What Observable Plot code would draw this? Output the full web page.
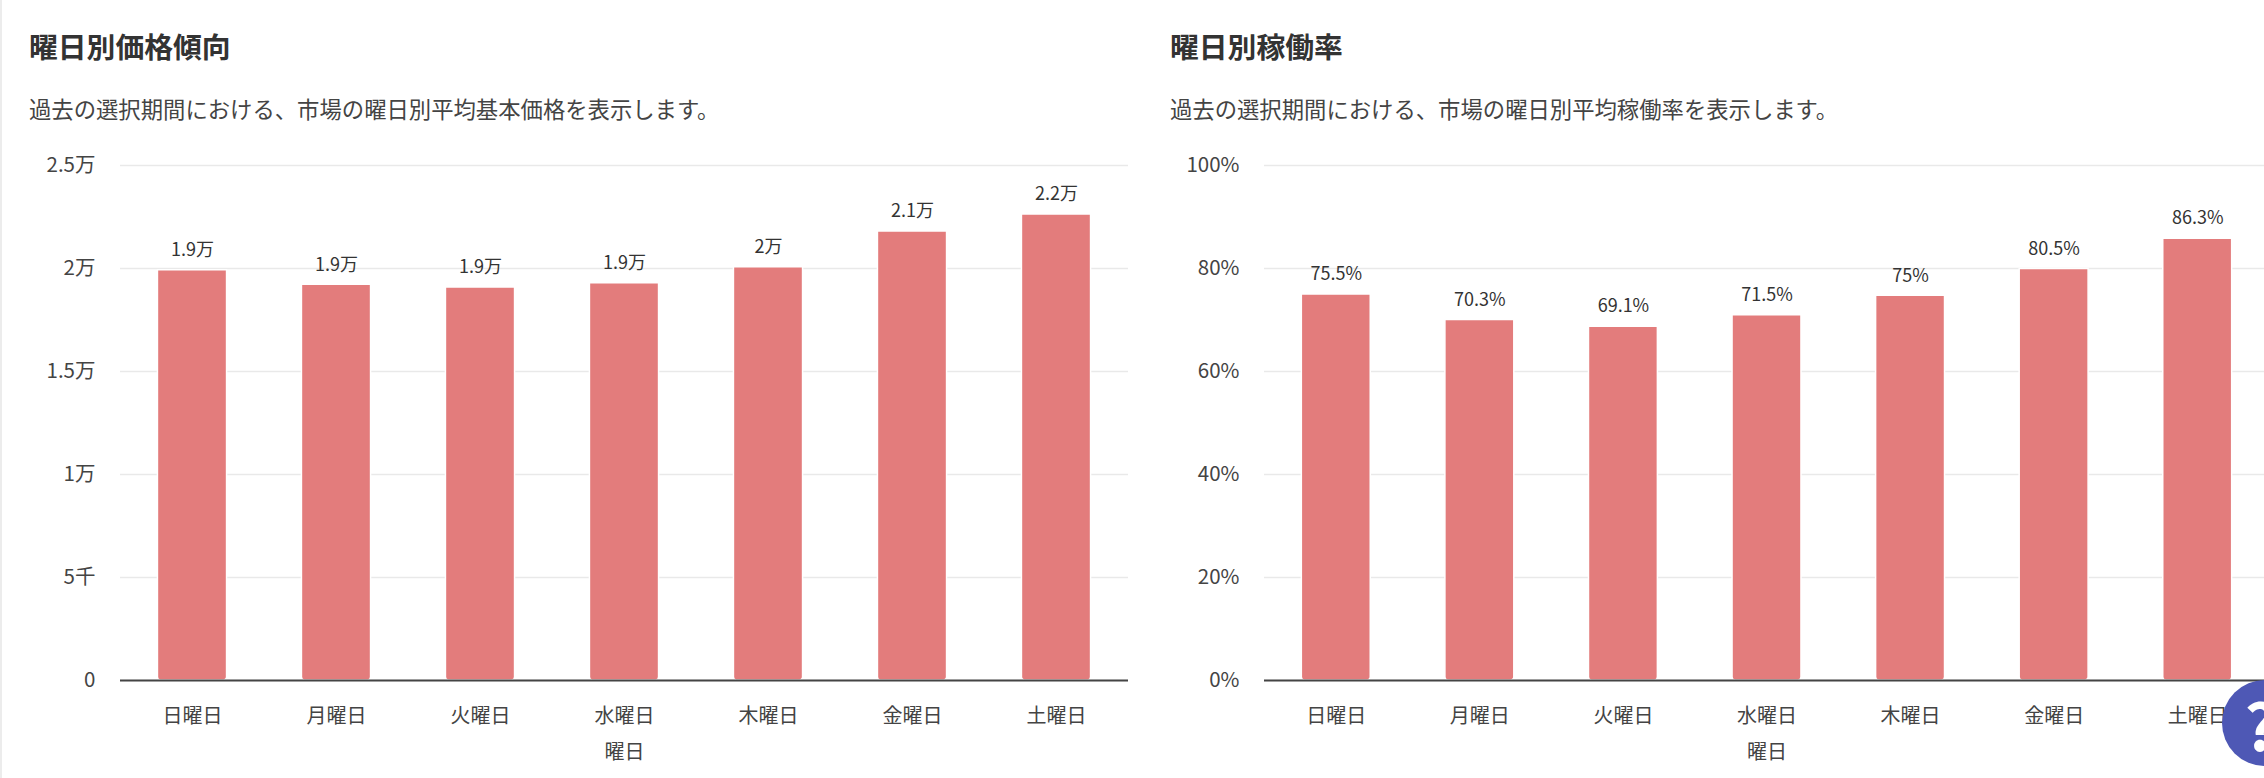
<!DOCTYPE html>
<html lang="ja"><head><meta charset="utf-8">
<script src="https://cdn.jsdelivr.net/npm/d3@7"></script>
<script src="https://cdn.jsdelivr.net/npm/@observablehq/plot@0.6"></script>
<style>
html,body{margin:0;padding:0;background:#fff;overflow:hidden;width:2264px;height:778px}
body{font-family:"Noto Sans CJK JP","Noto Sans",sans-serif;position:relative}
.edge{position:absolute;left:0;top:0;width:2px;height:778px;background:#ececec}
h2{position:absolute;margin:0;top:26px;font-size:28.8px;line-height:40px;font-weight:700;color:#333}
p{position:absolute;margin:0;top:91px;font-size:22.35px;line-height:34px;color:#444}
.chart{position:absolute;top:140px;width:1132px}
.chart svg{max-width:none}
.help{position:absolute;left:2222px;top:680px;width:86px;height:86px;border-radius:50%;background:#4e58b5;color:#fff;font-size:64px;font-weight:700;line-height:86px;text-align:center;text-indent:-8px}
</style></head><body>
<div class="edge"></div>
<h2 style="left:29px">曜日別価格傾向</h2>
<p style="left:29px">過去の選択期間における、市場の曜日別平均基本価格を表示します。</p>
<h2 style="left:1170px">曜日別稼働率</h2>
<p style="left:1170px">過去の選択期間における、市場の曜日別平均稼働率を表示します。</p>
<div id="a" class="chart" style="left:0"></div>
<div id="b" class="chart" style="left:1132px"></div>
<div class="help">?</div>
<script>
const days = ["日曜日","月曜日","火曜日","水曜日","木曜日","金曜日","土曜日"];
const prices = [19920,19210,19080,19290,20060,21800,22620];
const priceLabels = ["1.9万","1.9万","1.9万","1.9万","2万","2.1万","2.2万"];
const priceTicks = [0,5000,10000,15000,20000,25000];
const priceTickLabels = ["0","5千","1万","1.5万","2万","2.5万"];
const rates = [74.95,70.0,68.7,70.9,74.7,79.9,85.8];
const rateLabels = ["75.5%","70.3%","69.1%","71.5%","75%","80.5%","86.3%"];
const rateTicks = [0,20,40,60,80,100];
const rateTickLabels = ["0%","20%","40%","60%","80%","100%"];
const axisTitle = "曜日";

function chart(id, values, labels, ticks, tickLabels, domainMax, marginLeft, marginRight){
  const rows = days.map((d,i)=>({day:d,value:values[i],label:labels[i]}));
  const plot = Plot.plot({
    width:1132, height:638, marginTop:25, marginBottom:98, marginLeft, marginRight,
    style:{fontFamily:'"Noto Sans CJK JP","Noto Sans",sans-serif',fontSize:"20px",color:"#444",background:"transparent"},
    x:{domain:days,paddingInner:0.52,paddingOuter:0.26,round:false},
    y:{domain:[0,domainMax]},
    marks:[
      Plot.ruleY(ticks,{stroke:"#e9e9e9",strokeWidth:1.5}),
      Plot.barY(rows,{x:"day",y:"value",fill:"#e37c7c",stroke:"#fff",strokeWidth:1.5,ry2:3}),
      Plot.ruleY([0],{stroke:"#444",strokeWidth:2}),
      Plot.text(rows,{x:"day",y:"value",text:"label",dy:-20,fontSize:18,fill:"#333"}),
      Plot.axisY({ticks,tickSize:0,tickPadding:0,dx:-25,label:null,fontSize:20.5,tickFormat:v=>tickLabels[ticks.indexOf(v)]}),
      Plot.axisX({tickSize:0,tickPadding:28,label:axisTitle,labelAnchor:"center",labelOffset:78})
    ]
  });
  document.getElementById(id).appendChild(plot);
}
chart("a",prices,priceLabels,priceTicks,priceTickLabels,25000,120,4);
chart("b",rates,rateLabels,rateTicks,rateTickLabels,100,132,-5);
</script>
</body></html>
